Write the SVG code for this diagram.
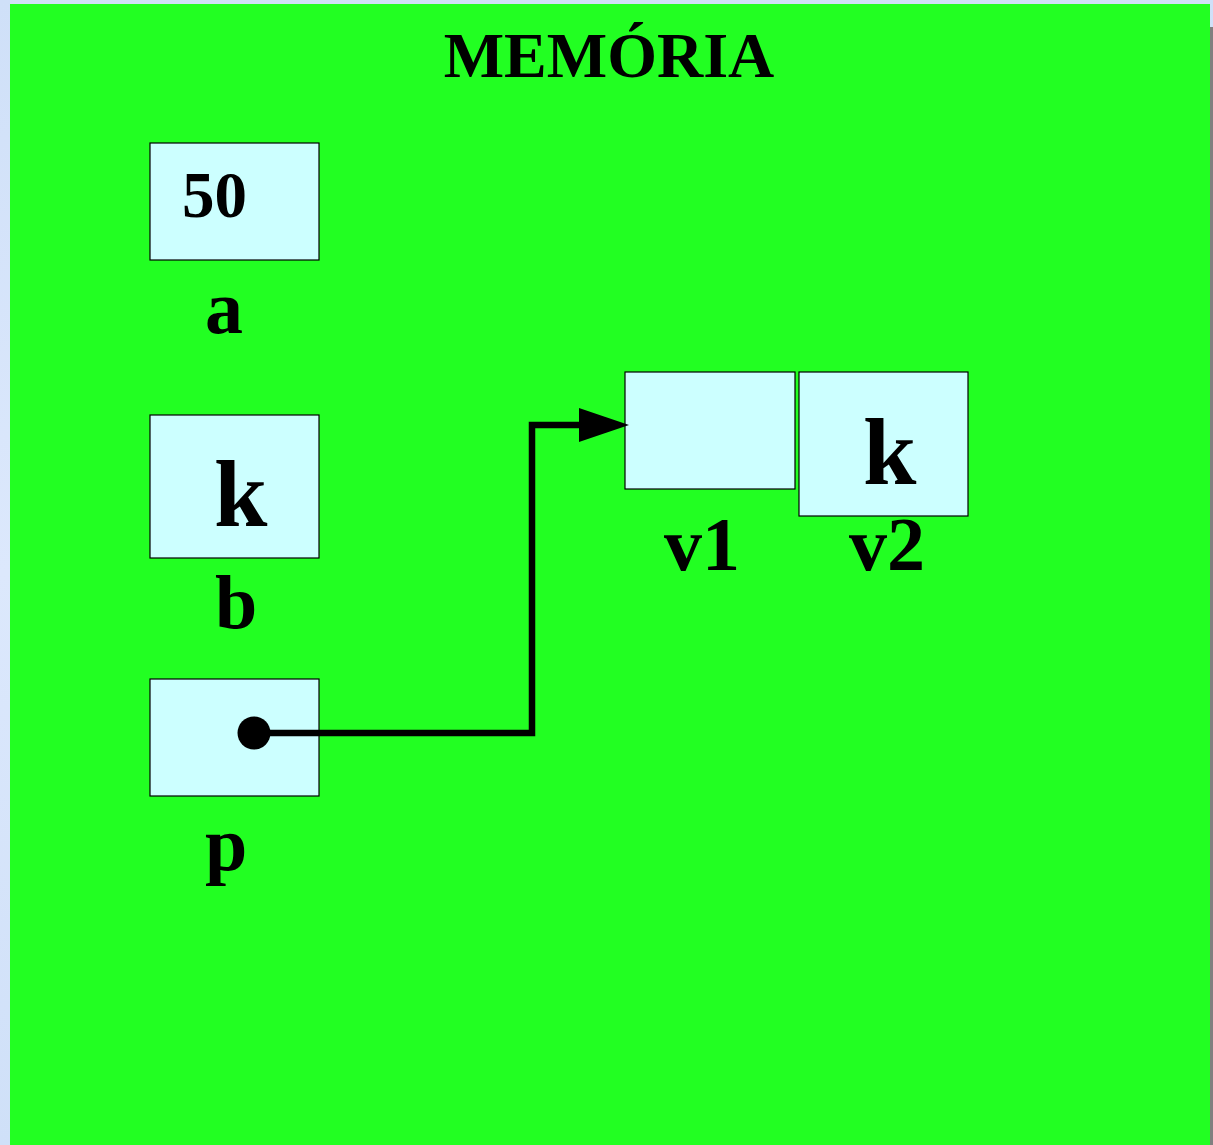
<svg xmlns="http://www.w3.org/2000/svg" width="1213" height="1145" viewBox="0 0 1213 1145">
<style>
.box{fill:#ccffff;stroke:#000000;stroke-width:1.2}
.t{font-family:"Liberation Serif","Times New Roman",serif;font-weight:bold;fill:#000000}
.conn{fill:none;stroke:#000000;stroke-width:6.5;stroke-linejoin:miter}
</style>
<defs>
<linearGradient id="bg" x1="0" y1="0" x2="0" y2="1">
<stop offset="0" stop-color="#cfe0f8"/>
<stop offset="0.5" stop-color="#dce8fc"/>
<stop offset="1" stop-color="#cfe0f8"/>
</linearGradient>
<marker id="arr" markerWidth="50" markerHeight="34" refX="1" refY="17" orient="auto" markerUnits="userSpaceOnUse">
<path d="M0,0 L50,17 L0,34 Z" fill="#000000"/>
</marker>
</defs>
<rect x="0" y="0" width="1213" height="1145" fill="url(#bg)"/>
<rect x="1210" y="27" width="3" height="1118" fill="#808080"/>
<rect id="memoria" x="10" y="4" width="1200" height="1141" fill="#22ff22"/>
<text class="t" x="609" y="77" font-size="64" text-anchor="middle">MEMÓRIA</text>

<g id="node-a">
<rect class="box" x="150" y="143" width="169" height="117"/>
<text class="t" x="182" y="217" font-size="65">50</text>
<text class="t" x="205" y="333" font-size="76">a</text>
</g>
<g id="node-b">
<rect class="box" x="150" y="415" width="169" height="143"/>
<text class="t" x="214" y="526" font-size="96">k</text>
<text class="t" x="215" y="628" font-size="76">b</text>
</g>
<g id="node-p">
<rect class="box" x="150" y="679" width="169" height="117"/>
<circle cx="254" cy="733" r="16.5" fill="#000000"/>
<text class="t" x="205" y="870" font-size="76">p</text>
</g>
<g id="node-v1">
<rect class="box" x="625" y="372" width="170" height="117"/>
<text class="t" x="664" y="570" font-size="76">v1</text>
</g>
<g id="node-v2">
<rect class="box" x="799" y="372" width="169" height="144"/>
<text class="t" x="863" y="484" font-size="96">k</text>
<text class="t" x="849" y="570" font-size="76">v2</text>
</g>

<g id="connectors">
<path class="conn" d="M254,733 L532,733 L532,425 L580,425" marker-end="url(#arr)"/>
</g>
</svg>
